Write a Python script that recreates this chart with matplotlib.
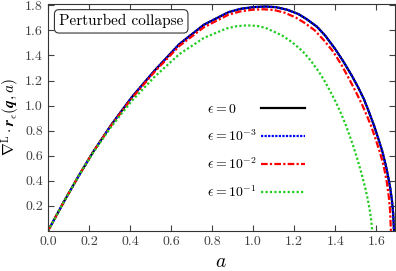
import numpy as np
import matplotlib
matplotlib.use("Agg")
import matplotlib.pyplot as plt

plt.rcParams['font.family'] = ['cmr10', 'DejaVu Serif']
plt.rcParams['mathtext.fontset'] = 'cm'
plt.rcParams['axes.formatter.use_mathtext'] = True

# values (a, divergence)
a_eps0 = [0, 0.04, 0.08, 0.15, 0.22, 0.31, 0.41, 0.52, 0.64, 0.76, 0.88, 0.94, 1.0, 1.06,
          1.11, 1.165, 1.22, 1.26, 1.31, 1.35, 1.40, 1.44, 1.48, 1.51, 1.54, 1.565, 1.59,
          1.61, 1.63, 1.645, 1.655, 1.667, 1.676, 1.682, 1.686]
v_eps0 = [0, 0.12, 0.24, 0.44, 0.63, 0.85, 1.07, 1.28, 1.49, 1.645, 1.745, 1.772, 1.785, 1.79,
          1.785, 1.765, 1.73, 1.69, 1.63, 1.56, 1.45, 1.35, 1.24, 1.15, 1.05, 0.945, 0.835,
          0.735, 0.63, 0.53, 0.455, 0.35, 0.245, 0.14, 0]

a_eps3 = a_eps0
v_eps3 = v_eps0

a_eps2 = [0, 0.04, 0.08, 0.15, 0.22, 0.31, 0.41, 0.52, 0.64, 0.76, 0.88, 0.94, 1.0, 1.05,
          1.10, 1.155, 1.21, 1.25, 1.30, 1.345, 1.39, 1.43, 1.47, 1.50, 1.53, 1.555, 1.575,
          1.595, 1.615, 1.63, 1.64, 1.652, 1.661, 1.667, 1.671]
v_eps2 = [0, 0.12, 0.24, 0.44, 0.63, 0.845, 1.06, 1.27, 1.475, 1.625, 1.725, 1.752, 1.765, 1.768,
          1.763, 1.74, 1.70, 1.66, 1.60, 1.52, 1.43, 1.325, 1.205, 1.11, 1.01, 0.915, 0.835,
          0.74, 0.64, 0.555, 0.485, 0.38, 0.27, 0.16, 0]

a_eps1 = [0, 0.04, 0.08, 0.15, 0.22, 0.31, 0.41, 0.52, 0.64, 0.76, 0.87, 0.92, 0.97, 1.02,
          1.06, 1.14, 1.19, 1.24, 1.28, 1.32, 1.35, 1.38, 1.405, 1.43, 1.45, 1.47, 1.49,
          1.51, 1.53, 1.545, 1.558, 1.568, 1.575, 1.58]
v_eps1 = [0, 0.12, 0.24, 0.44, 0.625, 0.835, 1.04, 1.23, 1.41, 1.54, 1.615, 1.633, 1.64, 1.635,
          1.62, 1.56, 1.505, 1.435, 1.36, 1.27, 1.19, 1.10, 1.02, 0.93, 0.85, 0.76, 0.665,
          0.56, 0.445, 0.35, 0.255, 0.165, 0.085, 0]

labels = [r'$\epsilon = 0$', r'$\epsilon = 10^{-3}$',
          r'$\epsilon = 10^{-2}$', r'$\epsilon = 10^{-1}$']

fig = plt.figure(figsize=(3.96, 2.71), dpi=100)
ax = fig.add_axes([0.121, 0.1476, 0.876, 0.8376])

ax.plot(a_eps0, v_eps0, color='black', lw=1.6, ls='-', label=labels[0])
ax.plot(a_eps3, v_eps3, color='blue', lw=1.6, ls=(0, (1, 0.6)), label=labels[1])
ax.plot(a_eps2, v_eps2, color='red', lw=1.6, ls=(0, (3, 1, 1, 1)), label=labels[2])
ax.plot(a_eps1, v_eps1, color='#22cc22', lw=1.6, ls=(0, (1, 1)), label=labels[3])

ax.set_xlim(0, 1.69)
ax.set_ylim(0, 1.81)
ax.set_xticks([0.0, 0.2, 0.4, 0.6, 0.8, 1.0, 1.2, 1.4, 1.6])
ax.set_yticks([0.2, 0.4, 0.6, 0.8, 1.0, 1.2, 1.4, 1.6, 1.8])
ax.xaxis.set_major_formatter(matplotlib.ticker.FormatStrFormatter('%.1f'))
ax.yaxis.set_major_formatter(matplotlib.ticker.FormatStrFormatter('%.1f'))
ax.tick_params(direction='in', top=True, right=True, labelsize=10, colors='0.25', length=4)
for s in ax.spines.values():
    s.set_color('0.2')

ax.set_xlabel(r'$a$', fontsize=14, labelpad=4)
ax.set_ylabel(r'$\nabla^{\rm L}\cdot\mathbfit{r}_\epsilon(\mathbfit{q},a)$', fontsize=11, labelpad=2)

ax.text(0.032, 0.955, 'Perturbed collapse', transform=ax.transAxes, fontsize=11,
        ha='left', va='top',
        bbox=dict(boxstyle='round,pad=0.3', fc='white', ec='0.2', lw=0.8))

leg = ax.legend(loc='center left', bbox_to_anchor=(0.423, 0.35), frameon=False, markerfirst=False,
                fontsize=10, handlelength=3.15, labelspacing=0.9, handletextpad=0.3)

# left-align the labels while keeping the lines in one column
fig.canvas.draw()
r = fig.canvas.get_renderer()
col = leg._legend_handle_box.get_children()[0]
col.align = 'left'
rows = col.get_children()
widths = [row.get_children()[0].get_window_extent(r).width for row in rows]
for row, w in zip(rows, widths):
    row.sep += (max(widths) - w) * 72.0 / fig.dpi

fig.savefig('out.png', dpi=100)
